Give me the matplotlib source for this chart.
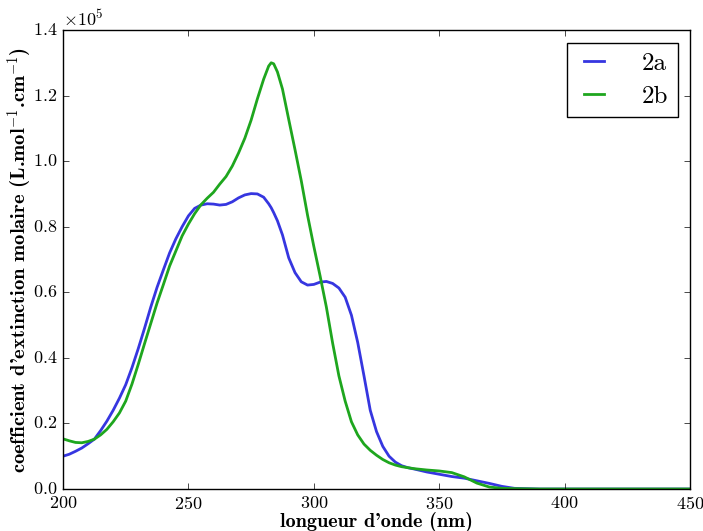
import matplotlib
matplotlib.use('Agg')
import matplotlib.pyplot as plt

# wavelength (nm) and molar extinction coefficient (x1e5 L.mol-1.cm-1)
wavelength = [200, 202.5, 205, 207.5, 210, 212.5, 215, 217.5, 220, 222.5, 225, 227.5,
              230, 232.5, 235, 237.5, 240, 242.5, 245, 247.5, 250, 252.5, 255, 257.5,
              260, 262.5, 265, 267.5, 270, 272.5, 275, 277.5, 280, 282, 283, 284, 285.5,
              287.5, 290, 292.5, 295, 297.5, 300, 302.5, 305, 307.5, 310, 312.5, 315,
              317.5, 320, 322.5, 325, 327.5, 330, 332.5, 335, 337.5, 340, 345, 350, 355,
              360, 365, 370, 375, 380, 390, 400, 425, 450]
eps_2a = [0.100, 0.106, 0.115, 0.125, 0.138, 0.152, 0.178, 0.207, 0.240, 0.277, 0.318, 0.370,
          0.428, 0.490, 0.555, 0.615, 0.668, 0.720, 0.763, 0.800, 0.833, 0.856, 0.866, 0.870,
          0.869, 0.866, 0.868, 0.876, 0.888, 0.897, 0.901, 0.900, 0.890, 0.870, 0.858, 0.843, 0.818,
          0.775, 0.705, 0.660, 0.632, 0.622, 0.624, 0.631, 0.633, 0.627, 0.613, 0.585, 0.530,
          0.447, 0.345, 0.240, 0.175, 0.130, 0.100, 0.082, 0.071, 0.065, 0.061, 0.052, 0.045, 0.038,
          0.033, 0.025, 0.017, 0.008, 0.002, 0.0, 0.0, 0.0, 0.0]
eps_2b = [0.153, 0.147, 0.142, 0.141, 0.145, 0.152, 0.165, 0.182, 0.205, 0.232, 0.268, 0.320,
          0.380, 0.443, 0.505, 0.567, 0.623, 0.680, 0.726, 0.772, 0.808, 0.840, 0.867, 0.887,
          0.905, 0.930, 0.953, 0.985, 1.025, 1.070, 1.125, 1.190, 1.250, 1.290, 1.300, 1.297, 1.272,
          1.220, 1.127, 1.035, 0.940, 0.835, 0.740, 0.650, 0.555, 0.445, 0.345, 0.268, 0.205,
          0.165, 0.137, 0.118, 0.103, 0.090, 0.080, 0.073, 0.068, 0.065, 0.062, 0.058, 0.055, 0.050,
          0.037, 0.018, 0.006, 0.002, 0.001, 0.0, 0.0, 0.0, 0.0]
scale = 1e5

plt.style.use('classic')
plt.rcParams['font.family'] = ['cmr10', 'DejaVu Serif']
plt.rcParams['mathtext.fontset'] = 'cm'
plt.rcParams['axes.formatter.use_mathtext'] = True
plt.rcParams['axes.unicode_minus'] = False

fig = plt.figure(figsize=(7.03, 5.31), dpi=100)
ax = fig.add_axes([0.0896, 0.0791, 0.892, 0.8644])

ax.plot(wavelength, [v * scale for v in eps_2a], color='#3636e0', lw=2, label='2a')
ax.plot(wavelength, [v * scale for v in eps_2b], color='#1ea61e', lw=2, label='2b')

ax.set_xlim(200, 450)
ax.set_ylim(0, 1.4e5)
ax.ticklabel_format(axis='y', style='sci', scilimits=(0, 0))
ax.tick_params(labelsize=13)
ax.yaxis.get_offset_text().set_fontsize(13)

bold = ['cmb10', 'DejaVu Serif']
ax.set_xlabel("longueur d'onde (nm)", fontsize=14.5, family=bold)
ax.set_ylabel(r"coefficient d'extinction molaire (L.mol$^{\mathbf{-1}}$.cm$^{\mathbf{-1}}$)",
              fontsize=14.8, family=bold)
ax.xaxis.set_label_coords(0.5, -0.05)
ax.yaxis.set_label_coords(-0.045, 0.5)

ax.legend(loc='upper right', fontsize=18, handlelength=1.4, handletextpad=1.2,
          labelspacing=0.42, borderpad=0.38, borderaxespad=0.5, frameon=True, fancybox=False)

fig.savefig('out.png', dpi=100)
